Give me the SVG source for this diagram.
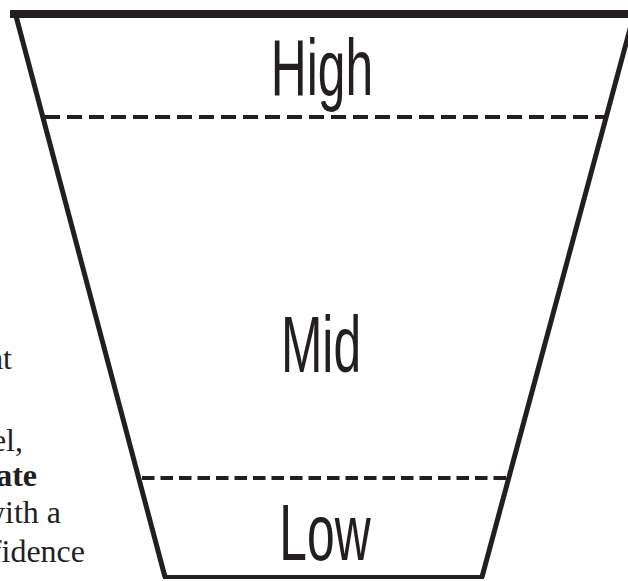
<svg xmlns="http://www.w3.org/2000/svg" width="628" height="581" viewBox="0 0 628 581">
<style>
.edge{stroke:#231f20;fill:none;stroke-linecap:butt}
.lbl{font-family:"Liberation Sans",Arial,sans-serif;font-size:79px;fill:#231f20;text-anchor:middle}
.body{font-family:"Liberation Serif","Times New Roman",serif;font-size:32px;fill:#231f20;text-anchor:end}
</style>
<rect width="628" height="581" fill="#ffffff"/>
<g id="side-text">
<text class="body" x="12" y="369">at</text>
<text class="body" x="23" y="451">el,</text>
<text class="body" x="37" y="486" font-weight="bold">ate</text>
<text class="body" x="61" y="523">with a</text>
<text class="body" x="85" y="562">confidence</text>
</g>
<g id="connectors">
<line class="edge" x1="10" y1="14" x2="628" y2="14" stroke-width="8"/>
<line class="edge" x1="16" y1="16" x2="165" y2="577" stroke-width="5"/>
<line class="edge" x1="634" y1="14" x2="482" y2="577" stroke-width="5"/>
<line class="edge" x1="163" y1="577" x2="484" y2="577" stroke-width="4"/>
<line class="edge" x1="45" y1="117" x2="605" y2="117" stroke-width="4" stroke-dasharray="15 7"/>
<line class="edge" x1="142" y1="478" x2="507" y2="478" stroke-width="4" stroke-dasharray="12.5 6"/>
</g>
<g id="node-high">
<text class="lbl" transform="translate(322,95) scale(0.63,1)">High</text>
</g>
<g id="node-mid">
<text class="lbl" transform="translate(321,372) scale(0.63,1)">Mid</text>
</g>
<g id="node-low">
<text class="lbl" transform="translate(325,560) scale(0.63,1)">Low</text>
</g>
</svg>
